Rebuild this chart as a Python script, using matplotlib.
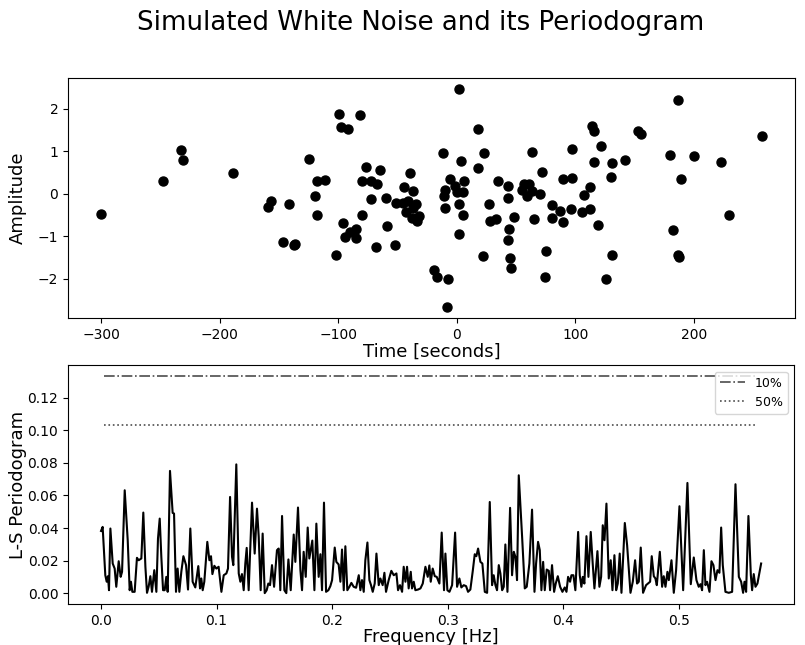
import numpy as np
import matplotlib
matplotlib.use('Agg')
import matplotlib.pyplot as plt

# simulated observations: time [s] and amplitude
t_obs = [-300.3, -248.0, -232.7, -231.3, -188.5, -159.5, -156.7, -146.5, -141.7, -137.5,
         -136.7, -125.0, -119.8, -118.1, -118.1, -111.6, -101.7, -99.7, -97.8, -96.1,
         -94.4, -92.1, -90.2, -84.8, -84.8, -81.7, -80.3, -80.3, -76.3, -72.7,
         -72.7, -68.2, -67.4, -64.5, -60.0, -58.9, -51.8, -51.3, -45.4, -44.2,
         -42.9, -41.4, -39.7, -38.0, -36.6, -36.6, -34.7, -33.6, -31.8, -18.9,
         -16.9, -11.8, -10.4, -9.6, -9.6, -8.5, -7.3, -5.9, -1.1, 0.6,
         1.7, 2.0, 2.0, 3.4, 5.1, 5.3, 6.5, 17.8, 17.8, 22.2,
         23.4, 27.6, 27.9, 33.2, 34.4, 42.9, 43.1, 43.1, 43.7, 44.8,
         46.2, 48.4, 55.2, 56.9, 58.9, 61.1, 63.1, 63.1, 64.8, 70.4,
         71.9, 74.1, 75.2, 80.0, 80.0, 86.8, 89.3, 89.6, 96.1, 97.5,
         97.5, 105.7, 107.1, 112.2, 112.7, 113.9, 115.6, 116.1, 119.4, 121.7,
         126.0, 130.4, 130.8, 131.0, 141.7, 152.7, 155.5, 180.3, 182.3, 187.1,
         187.1, 187.6, 189.4, 200.6, 223.2, 229.7, 257.6]
y_obs = [-0.48, 0.31, 1.02, 0.80, 0.48, -0.32, -0.18, -1.13, -0.25, -1.21,
         -1.18, 0.81, -0.06, 0.31, -0.49, 0.33, -1.44, 1.89, 1.57, -0.70,
         -1.02, 1.52, -0.91, -0.83, -1.05, 1.86, 0.29, -0.49, 0.64, 0.29,
         -0.13, -1.25, 0.22, 0.57, -0.10, -0.75, -1.21, -0.21, -0.21, 0.16,
         -0.42, -0.17, 0.50, -0.56, 0.06, -0.33, -0.24, -0.63, -0.52, -1.80,
         -1.96, 0.97, -0.06, 0.08, -0.33, -2.67, -2.02, 0.34, 0.19, 0.05,
         -0.94, 2.47, -0.25, 0.78, -0.49, 0.05, 0.29, 1.53, 0.60, -1.46,
         0.95, -0.24, -0.63, -0.59, 0.31, -1.09, 0.19, -0.10, -0.83, -1.51,
         -1.76, -0.55, 0.10, 0.24, -0.05, 0.24, 0.99, 0.06, -0.59, -0.01,
         0.52, -1.96, -1.36, -0.26, -0.56, -0.40, 0.35, -0.67, -0.37, 0.36,
         1.05, -0.44, -0.03, 0.15, -0.36, 1.59, 1.47, 0.75, -0.73, 1.13,
         -2.00, 0.39, -1.45, 0.72, 0.80, 1.48, 1.40, 0.92, -0.86, 2.20,
         -1.45, -1.50, 0.34, 0.90, 0.74, -0.50, 1.35]

# Lomb-Scargle periodogram
freq = [0.0000, 0.0014, 0.0037, 0.0049, 0.0060, 0.0069, 0.0081, 0.0101, 0.0118, 0.0132,
        0.0153, 0.0170, 0.0182, 0.0205, 0.0231, 0.0248, 0.0259, 0.0271, 0.0283, 0.0291,
        0.0311, 0.0326, 0.0349, 0.0366, 0.0384, 0.0398, 0.0412, 0.0427, 0.0441, 0.0461,
        0.0479, 0.0493, 0.0508, 0.0522, 0.0537, 0.0551, 0.0565, 0.0577, 0.0597, 0.0620,
        0.0632, 0.0649, 0.0663, 0.0678, 0.0695, 0.0713, 0.0736, 0.0753, 0.0773, 0.0793,
        0.0816, 0.0842, 0.0857, 0.0868, 0.0880, 0.0894, 0.0920, 0.0938, 0.0952, 0.0964,
        0.0981, 0.0998, 0.1018, 0.1042, 0.1062, 0.1085, 0.1099, 0.1117,
        0.1134, 0.1145, 0.1171, 0.1192, 0.1206, 0.1220, 0.1235, 0.1249, 0.1261, 0.1278,
        0.1307, 0.1330, 0.1350, 0.1365, 0.1382, 0.1399, 0.1417, 0.1434, 0.1448, 0.1463,
        0.1480, 0.1498, 0.1523, 0.1538, 0.1552, 0.1567, 0.1587, 0.1604, 0.1622, 0.1642,
        0.1668, 0.1682, 0.1705, 0.1726, 0.1740, 0.1754, 0.1772, 0.1789, 0.1803, 0.1829,
        0.1847, 0.1864, 0.1884, 0.1899, 0.1913, 0.1930, 0.1948, 0.1968, 0.1985, 0.2000,
        0.2023, 0.2037, 0.2057, 0.2072, 0.2086, 0.2101, 0.2115, 0.2132, 0.2150, 0.2167,
        0.2187, 0.2208, 0.2231, 0.2245,
        0.2259, 0.2274, 0.2288, 0.2306, 0.2323, 0.2337, 0.2352, 0.2369, 0.2384, 0.2404,
        0.2418, 0.2438, 0.2453, 0.2467, 0.2490, 0.2513, 0.2534, 0.2557, 0.2571, 0.2588,
        0.2606, 0.2620, 0.2635, 0.2649, 0.2663, 0.2681, 0.2692, 0.2707, 0.2721, 0.2744,
        0.2765, 0.2785, 0.2808, 0.2828, 0.2842, 0.2854, 0.2871, 0.2889, 0.2906, 0.2929,
        0.2949, 0.2969, 0.2981, 0.2998, 0.3016, 0.3039, 0.3065, 0.3082, 0.3102, 0.3119,
        0.3140, 0.3160, 0.3177, 0.3197, 0.3218, 0.3235, 0.3249, 0.3264, 0.3284, 0.3301,
        0.3322, 0.3342, 0.3365,
        0.3385, 0.3399, 0.3414, 0.3428, 0.3443, 0.3457, 0.3472, 0.3486, 0.3500, 0.3518,
        0.3541, 0.3558, 0.3573, 0.3587, 0.3601, 0.3616, 0.3645, 0.3668, 0.3685, 0.3708,
        0.3731, 0.3752, 0.3766, 0.3783, 0.3798, 0.3812, 0.3827, 0.3841, 0.3858, 0.3876,
        0.3887, 0.3904, 0.3922, 0.3936, 0.3954, 0.3974, 0.3994, 0.4014, 0.4029, 0.4043,
        0.4060, 0.4072, 0.4089, 0.4106, 0.4130, 0.4144, 0.4158, 0.4170, 0.4184, 0.4202,
        0.4219, 0.4239, 0.4257, 0.4271, 0.4297, 0.4314, 0.4329, 0.4343, 0.4358, 0.4375,
        0.4395, 0.4412, 0.4427, 0.4444, 0.4459, 0.4473, 0.4490,
        0.4505, 0.4534, 0.4554, 0.4583, 0.4603, 0.4623, 0.4640, 0.4655, 0.4672, 0.4692,
        0.4718, 0.4741, 0.4753, 0.4767, 0.4785, 0.4799, 0.4811, 0.4837, 0.4857, 0.4871,
        0.4886, 0.4903, 0.4915, 0.4938, 0.4958, 0.4978, 0.5007, 0.5039, 0.5076, 0.5105,
        0.5131, 0.5154, 0.5174, 0.5189, 0.5203, 0.5218, 0.5232, 0.5246, 0.5267, 0.5284,
        0.5301, 0.5319, 0.5336, 0.5353, 0.5368, 0.5382, 0.5405, 0.5434, 0.5463, 0.5492,
        0.5521, 0.5541, 0.5558, 0.5570, 0.5584, 0.5604, 0.5625, 0.5636, 0.5650, 0.5665,
        0.5682, 0.5714]
power = [0.0382, 0.0407, 0.0110, 0.0070, 0.0104, 0.0018, 0.0397, 0.0182, 0.0151, 0.0039,
         0.0196, 0.0100, 0.0131, 0.0632, 0.0325, 0.0018, 0.0070, 0.0008, 0.0008, 0.0008,
         0.0217, 0.0202, 0.0213, 0.0495, 0.0162, 0.0002, 0.0039, 0.0104, 0.0008, 0.0141,
         0.0008, 0.0335, 0.0458, 0.0223, 0.0018, 0.0018, 0.0100, 0.0008, 0.0751, 0.0493,
         0.0489, 0.0008, 0.0151, 0.0008, 0.0131, 0.0227, 0.0172, 0.0022, 0.0397, 0.0070,
         0.0035, 0.0166, 0.0029, 0.0090, 0.0018, 0.0070, 0.0315, 0.0202, 0.0227, 0.0117,
         0.0168, 0.0151, 0.0162, 0.0008, 0.0110, 0.0121, 0.0151, 0.0591,
         0.0223, 0.0172, 0.0791, 0.0121, 0.0070, 0.0117, 0.0018, 0.0182, 0.0278, 0.0018,
         0.0556, 0.0243, 0.0519, 0.0346, 0.0018, 0.0366, 0.0000, 0.0018, 0.0059, 0.0049,
         0.0172, 0.0039, 0.0264, 0.0274, 0.0018, 0.0474, 0.0018, 0.0000, 0.0207, 0.0018,
         0.0360, 0.0192, 0.0526, 0.0141, 0.0018, 0.0254, 0.0100, 0.0403, 0.0213, 0.0323,
         0.0018, 0.0427, 0.0100, 0.0239, 0.0018, 0.0556, 0.0008, 0.0018, 0.0043, 0.0080,
         0.0280, 0.0192, 0.0176, 0.0070, 0.0268, 0.0018, 0.0288, 0.0018, 0.0039, 0.0063,
         0.0039, 0.0033, 0.0110, 0.0018,
         0.0080, 0.0008, 0.0202, 0.0311, 0.0080, 0.0049, 0.0008, 0.0059, 0.0243, 0.0049,
         0.0090, 0.0049, 0.0125, 0.0008, 0.0080, 0.0137, 0.0110, 0.0121, 0.0018, 0.0049,
         0.0008, 0.0162, 0.0070, 0.0162, 0.0029, 0.0131, 0.0029, 0.0070, 0.0018, 0.0022,
         0.0029, 0.0059, 0.0162, 0.0100, 0.0170, 0.0070, 0.0151, 0.0104, 0.0100, 0.0059,
         0.0372, 0.0018, 0.0243, 0.0018, 0.0008, 0.0049, 0.0372, 0.0039, 0.0090, 0.0035,
         0.0049, 0.0043, 0.0008, 0.0022, 0.0137, 0.0239, 0.0227, 0.0274, 0.0192, 0.0182,
         0.0008, 0.0002, 0.0560,
         0.0049, 0.0110, 0.0049, 0.0018, 0.0172, 0.0121, 0.0018, 0.0039, 0.0299, 0.0008,
         0.0524, 0.0110, 0.0254, 0.0223, 0.0080, 0.0724, 0.0346, 0.0029, 0.0039, 0.0182,
         0.0513, 0.0008, 0.0182, 0.0315, 0.0264, 0.0018, 0.0192, 0.0018, 0.0145, 0.0137,
         0.0018, 0.0172, 0.0008, 0.0059, 0.0104, 0.0039, 0.0008, 0.0035, 0.0008, 0.0100,
         0.0070, 0.0110, 0.0110, 0.0018, 0.0376, 0.0110, 0.0039, 0.0100, 0.0059, 0.0350,
         0.0100, 0.0376, 0.0172, 0.0029, 0.0258, 0.0039, 0.0100, 0.0417, 0.0325, 0.0550,
         0.0090, 0.0202, 0.0018, 0.0233, 0.0018, 0.0059, 0.0243,
         0.0002, 0.0431, 0.0294, 0.0002, 0.0070, 0.0202, 0.0059, 0.0070, 0.0280, 0.0002,
         0.0049, 0.0063, 0.0070, 0.0227, 0.0104, 0.0090, 0.0049, 0.0254, 0.0039, 0.0104,
         0.0039, 0.0131, 0.0080, 0.0202, 0.0002, 0.0141, 0.0534, 0.0018, 0.0677, 0.0055,
         0.0219, 0.0080, 0.0039, 0.0055, 0.0018, 0.0264, 0.0049, 0.0070, 0.0008, 0.0196,
         0.0172, 0.0080, 0.0141, 0.0125, 0.0403, 0.0172, 0.0008, 0.0002, 0.0008, 0.0669,
         0.0100, 0.0070, 0.0002, 0.0070, 0.0008, 0.0474, 0.0110, 0.0018, 0.0117, 0.0039,
         0.0059, 0.0182]

# significance levels
sig_labels = ['10%', '50%']
sig_levels = [0.1333, 0.1030]
sig_styles = ['-.', ':']
sig_freq_range = [0.0025, 0.5660]

fig = plt.figure(figsize=(8.05, 6.45), dpi=100)
fig.suptitle('Simulated White Noise and its Periodogram', fontsize=18.7, x=0.522, y=0.985)

ax1 = fig.add_axes([0.0845, 0.507, 0.903, 0.372])
ax1.plot(t_obs, y_obs, 'ko', ms=6.5)
ax1.set_xlabel('Time [seconds]', fontsize=13, labelpad=0.5)
ax1.set_ylabel('Amplitude', fontsize=13)
ax1.yaxis.set_label_coords(-0.057, 0.5)

ax2 = fig.add_axes([0.0845, 0.0636, 0.902, 0.370])
ax2.plot(freq, power, '-k', lw=1.5)
for lab, lev, ls in zip(sig_labels, sig_levels, sig_styles):
    ax2.plot(sig_freq_range, [lev, lev], ls=ls, color='0.3', lw=1.2, label=lab)
ax2.set_xlabel('Frequency [Hz]', fontsize=13, labelpad=0.5)
ax2.set_ylabel('L-S Periodogram', fontsize=13)
ax2.yaxis.set_label_coords(-0.057, 0.5)
ax2.legend(loc='upper right', fontsize=9)

fig.savefig('out.png', dpi=100)
